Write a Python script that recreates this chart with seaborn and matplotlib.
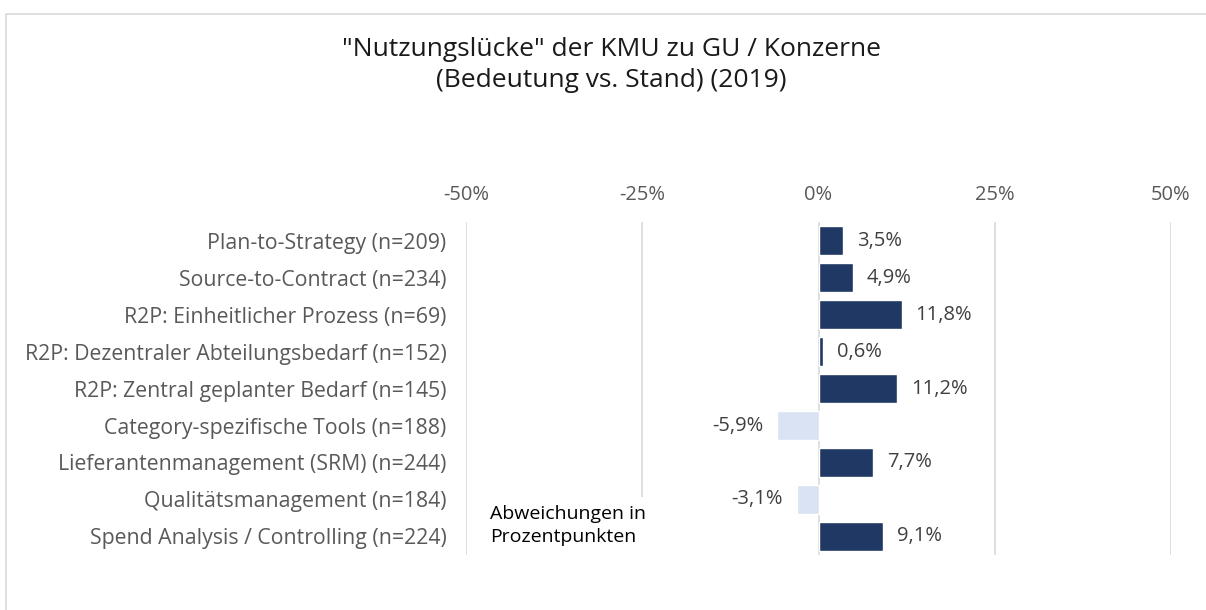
import pandas as pd
import matplotlib.pyplot as plt
import seaborn as sns
from matplotlib.patches import Rectangle

# Daten
kategorien = ['Plan-to-Strategy (n=209)', 'Source-to-Contract (n=234)', 'R2P: Einheitlicher Prozess (n=69)',
              'R2P: Dezentraler Abteilungsbedarf (n=152)', 'R2P: Zentral geplanter Bedarf (n=145)',
              'Category-spezifische Tools (n=188)', 'Lieferantenmanagement (SRM) (n=244)',
              'Qualitätsmanagement (n=184)', 'Spend Analysis / Controlling (n=224)']
werte = [3.5, 4.9, 11.8, 0.6, 11.2, -5.9, 7.7, -3.1, 9.1]
ticks = [-50, -25, 0, 25, 50]

df = pd.DataFrame({'Kategorie': kategorien, 'Wert': werte})
df['Vorzeichen'] = ['pos' if w >= 0 else 'neg' for w in werte]

sns.set_style('white')
plt.rcParams['font.family'] = ['Open Sans', 'DejaVu Sans']

fig = plt.figure(figsize=(12.06, 6.10), dpi=100)
ax = fig.add_axes([0.3864, 0.0902, 0.5846, 0.5458])

# Rahmen um das Diagramm
fig.patches.append(Rectangle((0.005, -0.05), 1.1, 1.027, transform=fig.transFigure,
                             fill=False, edgecolor='#d9d9d9', linewidth=1.2))

sns.barplot(data=df, y='Kategorie', x='Wert', hue='Vorzeichen', orient='h',
            palette={'pos': '#203864', 'neg': '#dae3f3'}, width=0.76, saturation=1,
            dodge=False, legend=False, ax=ax, zorder=3)

ax.set_xlim(-50, 50)
ax.set_ylim(8.5, -0.5)
ax.set_xticks(ticks)
ax.set_xticklabels([f'{t}%' for t in ticks])
ax.xaxis.tick_top()
ax.tick_params(axis='x', length=0, pad=12, labelsize=14.5, labelcolor='#595959')
ax.tick_params(axis='y', length=0, pad=14, labelsize=15.3, labelcolor='#595959')
ax.set_xlabel('')
ax.set_ylabel('')
for t in ticks:
    ax.axvline(t, color='#d9d9d9', linewidth=1.2, zorder=1)
for s in ax.spines.values():
    s.set_visible(False)

# Datenbeschriftungen
for i, w in enumerate(werte):
    txt = f'{w:.1f}%'.replace('.', ',')
    if w >= 0:
        ax.annotate(txt, (w, i), xytext=(10, 0), textcoords='offset points',
                    ha='left', va='center', fontsize=14.5, color='#404040')
    else:
        ax.annotate(txt, (w, i), xytext=(-10, 0), textcoords='offset points',
                    ha='right', va='center', fontsize=14.5, color='#404040')

ax.text(-46.6, 7.15, 'Abweichungen in\nProzentpunkten', ha='left', va='top', fontsize=14,
        color='#000000', linespacing=1.38, zorder=4,
        bbox=dict(facecolor='white', edgecolor='none', pad=6))

fig.text(0.507, 0.893, '"Nutzungslücke" der KMU zu GU / Konzerne\n(Bedeutung vs. Stand) (2019)',
         ha='center', va='center', fontsize=19, color='#1a1a1a', linespacing=1.32)

fig.savefig('out.png', dpi=100)
